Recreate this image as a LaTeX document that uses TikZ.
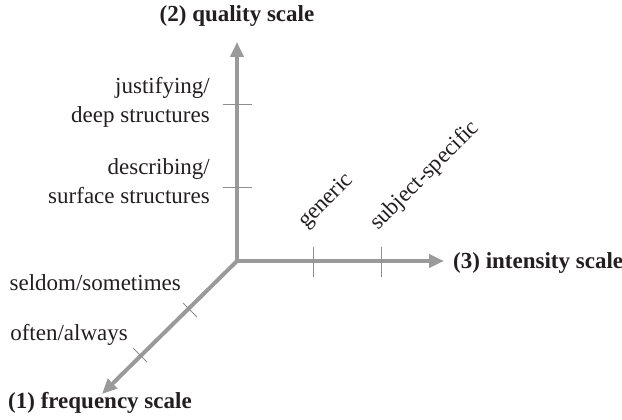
\documentclass[tikz,border=0pt]{standalone}
\usepackage{fontspec}
\setmainfont{Liberation Serif}
\usetikzlibrary{arrows.meta}

\definecolor{axisgray}{HTML}{9A9A9A}
\definecolor{tickgray}{HTML}{8E8E8E}
\definecolor{labelink}{HTML}{231F20}

\tikzset{
  axis/.style={draw=axisgray, line width=4pt,
    -{Triangle[length=15pt,width=13pt,fill=axisgray]}},
  tick/.style={draw=tickgray, line width=0.8pt},
  lbl/.style={inner sep=0pt, text=labelink,
    font=\fontsize{23}{29}\selectfont},
  title/.style={lbl, font=\fontsize{23}{29}\selectfont\bfseries},
}

\begin{document}
\begin{tikzpicture}[x=1pt,y=-1pt]
  \useasboundingbox (0,0) rectangle (622,420);

  % origin and axis ends
  \coordinate (O) at (237,261);
  \coordinate (Qtip) at (237,42);
  \coordinate (Itip) at (444,261);
  \coordinate (Ftip) at (102,394);

  % three axes
  \draw[axis] (O) -- (Qtip);
  \draw[axis] (O) -- (Itip);
  \draw[axis, line join=miter] (O) -- (Ftip);

  % tick marks on the quality scale
  \coordinate (q1a) at (223,187); \coordinate (q1b) at (252,187);
  \coordinate (q2a) at (223,104); \coordinate (q2b) at (252,104);
  \draw[tick] (q1a) -- (q1b);
  \draw[tick] (q2a) -- (q2b);

  % tick marks on the intensity scale
  \coordinate (i1a) at (313,247); \coordinate (i1b) at (313,277);
  \coordinate (i2a) at (381,247); \coordinate (i2b) at (381,277);
  \draw[tick] (i1a) -- (i1b);
  \draw[tick] (i2a) -- (i2b);

  % tick marks on the frequency scale
  \coordinate (f1a) at (183,303); \coordinate (f1b) at (197,317);
  \coordinate (f2a) at (133,348); \coordinate (f2b) at (147,362);
  \draw[tick] (f1a) -- (f1b);
  \draw[tick] (f2a) -- (f2b);

  % axis titles
  \node[title, anchor=base] (qtitle) at (237,22) {(2) quality scale};
  \node[title, anchor=base west] (ititle) at (453,268) {(3) intensity scale};
  \node[title, anchor=base west] (ftitle) at (8,408) {(1) frequency scale};

  % quality levels (base anchor sits on the last line)
  \node[lbl, align=right, anchor=base east] (deep) at (210,123)
    {justifying/\\deep structures};
  \node[lbl, align=right, anchor=base east] (surface) at (210,204)
    {describing/\\surface structures};

  % intensity levels
  \node[lbl, rotate=45, anchor=base west] (generic) at (306,229) {generic};
  \node[lbl, rotate=45, anchor=base west] (specific) at (378,231) {subject-specific};

  % frequency levels
  \node[lbl, anchor=base east] (seldom) at (181,290) {seldom/sometimes};
  \node[lbl, anchor=base east] (often) at (128,340) {often/always};
\end{tikzpicture}
\end{document}
